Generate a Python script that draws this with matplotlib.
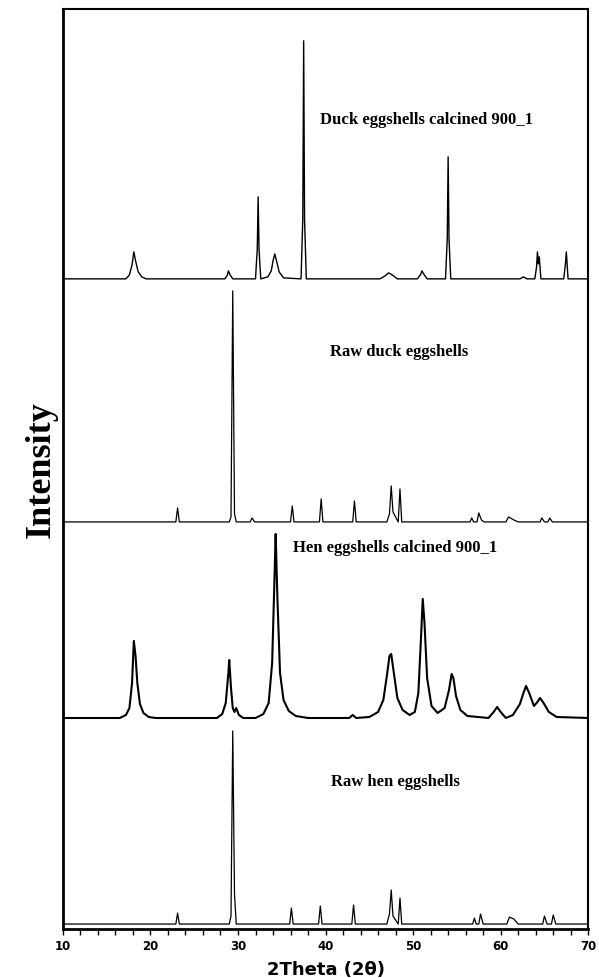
import matplotlib
matplotlib.use("Agg")
import matplotlib.pyplot as plt
import numpy as np

# XRD patterns, vertices (2theta, relative intensity)
duck_calc_x = [10, 17.2, 17.6, 17.9, 18.1, 18.3, 18.6, 19.0, 19.5, 28.5, 28.8, 28.9, 29.1,
               29.4, 32.0, 32.2, 32.3, 32.4, 32.6, 33.4, 33.8, 34.0, 34.2, 34.4, 34.7,
               35.2, 37.2, 37.4, 37.5, 37.6, 37.8, 46.2, 46.8, 47.2, 47.6, 48.2,
               50.5, 50.9, 51.0, 51.2, 51.6, 53.7, 53.9, 54.0, 54.1, 54.3, 62.2, 62.6,
               63.0, 63.9, 64.1, 64.2, 64.3, 64.4, 64.6, 67.2, 67.4, 67.5, 67.7, 70]
duck_calc_y = [0, 0, 4, 14, 27, 18, 7, 2, 0, 0, 4, 8, 4,
               0, 0, 30, 82, 30, 0, 2, 8, 18, 25, 18, 7,
               1, 0, 60, 238, 60, 0, 0, 3, 6, 4, 0,
               0, 5, 8, 5, 0, 0, 40, 122, 40, 0, 0, 2,
               0, 0, 12, 27, 15, 22, 0, 0, 15, 27, 0, 0]

raw_duck_x = [10, 22.9, 23.1, 23.3, 29.0, 29.2, 29.4, 29.6, 29.8, 31.4, 31.6, 31.9,
              36.0, 36.2, 36.4, 39.3, 39.5, 39.7, 43.1, 43.3, 43.5, 47.0, 47.3, 47.5,
              47.7, 48.3, 48.5, 48.7, 56.5, 56.7, 56.9, 57.3, 57.5, 57.8, 58.1, 60.6,
              60.9, 61.5, 62.0, 64.5, 64.7, 65.0, 65.4, 65.6, 65.9, 70]
raw_duck_y = [0, 0, 14, 0, 0, 5, 231, 8, 0, 0, 4, 0,
              0, 16, 0, 0, 23, 0, 0, 21, 0, 0, 8, 36,
              10, 0, 33, 0, 0, 4, 0, 0, 9, 2, 0, 0,
              5, 2, 0, 0, 4, 0, 0, 4, 0, 0]

hen_calc_x = [10, 16.5, 17.2, 17.6, 17.9, 18.1, 18.3, 18.5, 18.8, 19.2, 19.8, 20.6,
              27.6, 28.2, 28.6, 28.9, 29.0, 29.2, 29.4, 29.6, 29.8, 30.1, 30.6,
              32.0, 32.9, 33.5, 33.9, 34.2, 34.3, 34.5, 34.8, 35.2, 35.8, 36.6, 38.0,
              42.7, 43.1, 43.5, 45.0, 46.0, 46.6, 47.0, 47.3, 47.5, 47.8, 48.2, 48.8, 49.6,
              50.2, 50.6, 50.9, 51.1, 51.3, 51.6, 52.1, 52.8, 53.6, 54.1, 54.4, 54.6,
              54.9, 55.4, 56.2, 58.6, 59.2, 59.6, 60.0, 60.6, 61.4, 62.2, 62.6, 62.9,
              63.3, 63.8, 64.2, 64.5, 64.9, 65.5, 66.4, 70]
hen_calc_y = [0, 0, 3, 10, 35, 77, 62, 35, 14, 5, 1, 0,
              0, 4, 15, 45, 58, 30, 10, 6, 10, 3, 0,
              0, 4, 15, 55, 150, 184, 120, 45, 18, 7, 2, 0,
              0, 3, 0, 1, 6, 18, 42, 62, 64, 45, 20, 8, 3,
              6, 25, 80, 119, 95, 40, 12, 5, 10, 28, 44, 40,
              22, 8, 2, 0, 6, 11, 6, 0, 3, 14, 25, 32,
              24, 12, 16, 20, 15, 6, 1, 0]

raw_hen_x = [10, 22.9, 23.1, 23.3, 29.0, 29.2, 29.4, 29.6, 29.8, 35.9, 36.1, 36.3,
             39.2, 39.4, 39.6, 43.0, 43.2, 43.4, 47.0, 47.3, 47.5, 47.7, 48.3, 48.5,
             48.7, 56.8, 57.0, 57.2, 57.5, 57.7, 58.0, 60.7, 61.0, 61.5, 62.0, 64.8,
             65.0, 65.3, 65.8, 66.0, 66.3, 70]
raw_hen_y = [0, 0, 11, 0, 0, 8, 193, 30, 0, 0, 16, 0,
             0, 18, 0, 0, 19, 0, 0, 10, 34, 8, 0, 26,
             0, 0, 6, 0, 0, 10, 0, 0, 7, 5, 0, 0,
             8, 0, 0, 9, 0, 0]

names = ["Duck eggshells calcined 900_1", "Raw duck eggshells",
         "Hen eggshells calcined 900_1", "Raw hen eggshells"]
offsets = [650, 407, 211, 5]

fig = plt.figure(figsize=(5.99, 9.79), dpi=100)
ax = fig.add_axes([0.105, 0.050, 0.877, 0.940])

series = [(duck_calc_x, duck_calc_y, 1.0), (raw_duck_x, raw_duck_y, 0.9),
          (hen_calc_x, hen_calc_y, 1.5), (raw_hen_x, raw_hen_y, 0.9)]
for (x, y, lw), off in zip(series, offsets):
    ax.plot(x, np.array(y) + off, color="black", lw=lw)

# sample labels
label_pos = [(39.4, 810), (40.5, 578), (36.3, 382), (40.6, 148)]
for name, (lx, ly) in zip(names, label_pos):
    ax.text(lx, ly, name, fontsize=12, fontweight="bold", family="Liberation Serif",
            va="center", ha="left")

ax.set_xlim(10, 70)
ax.set_ylim(0, 920)
ax.set_yticks([])
ax.set_xticks(range(10, 71, 10))
ax.set_xticks(range(10, 71, 2), minor=True)
ax.tick_params(axis="x", which="both", direction="out", length=4, width=1, pad=3)
for lab in ax.get_xticklabels():
    lab.set_fontweight("bold")
    lab.set_fontsize(8.5)
ax.set_xlabel("2Theta (2θ)", fontsize=13, fontweight="bold", labelpad=6)
ax.set_ylabel("Intensity", fontsize=26, fontweight="bold", family="Liberation Serif",
              labelpad=4)
for side in ["left", "bottom"]:
    ax.spines[side].set_linewidth(2)
for side in ["top", "right"]:
    ax.spines[side].set_linewidth(1.5)

fig.savefig("out.png", dpi=100)
